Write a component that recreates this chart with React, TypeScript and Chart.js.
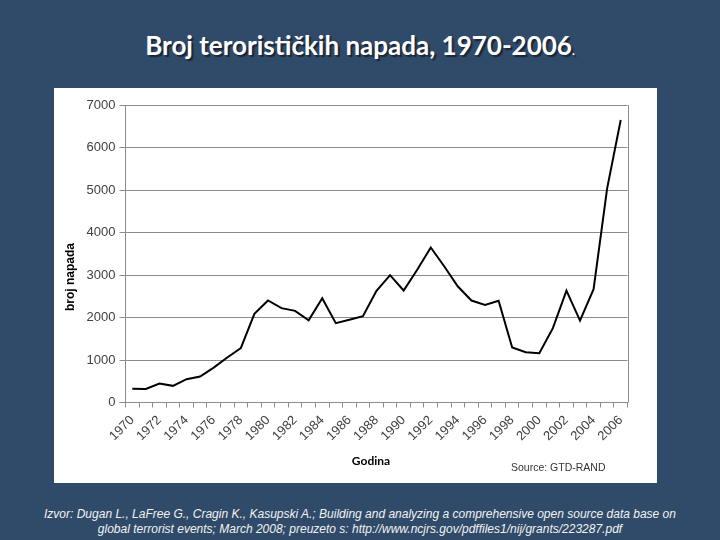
import React, { useEffect, useRef } from "react";
import { Chart, registerables } from "chart.js";

Chart.register(...registerables);

// ---- data ----
const years: string[] = [
  "1970", "1971", "1972", "1973", "1974", "1975", "1976", "1977", "1978", "1979",
  "1980", "1981", "1982", "1983", "1984", "1985", "1986", "1987", "1988", "1989",
  "1990", "1991", "1992", "1993", "1994", "1995", "1996", "1997", "1998", "1999",
  "2000", "2001", "2002", "2003", "2004", "2005", "2006",
];
const attacks: number[] = [
  322, 320, 447, 392, 549, 612, 820, 1060, 1278, 2086,
  2400, 2220, 2157, 1935, 2455, 1867, 1945, 2031, 2627, 2996,
  2635, 3122, 3647, 3200, 2729, 2400, 2298, 2395, 1293, 1184,
  1160, 1748, 2634, 1928, 2665, 5040, 6647,
];
const yMin = 0;
const yMax = 7000;
const yStep = 1000;

const TITLE = "Broj terorističkih napada, 1970-2006";
const Y_TITLE = "broj napada";
const X_TITLE = "Godina";
const SOURCE = "Source: GTD-RAND";
const FOOTER_1 =
  "Izvor: Dugan L., LaFree G., Cragin K., Kasupski A.; Building and analyzing a comprehensive open source data base on";
const FOOTER_2 =
  "global terrorist events; March 2008; preuzeto s: http://www.ncjrs.gov/pdffiles1/nij/grants/223287.pdf";

const BG = "#304a69";
const GRID = "#8c8c8c";

const rightBorder = {
  id: "rightBorder",
  afterDraw(chart: any) {
    const { ctx, chartArea } = chart;
    ctx.save();
    ctx.strokeStyle = GRID;
    ctx.lineWidth = 1;
    ctx.beginPath();
    const x = Math.round(chartArea.right) + 0.5;
    ctx.moveTo(x, chartArea.top);
    ctx.lineTo(x, chartArea.bottom);
    ctx.stroke();
    ctx.restore();
  },
};

function LineChart() {
  const ref = useRef<HTMLCanvasElement | null>(null);
  useEffect(() => {
    if (!ref.current) return;
    const chart = new Chart(ref.current, {
      type: "line",
      data: {
        labels: years,
        datasets: [
          {
            data: attacks,
            borderColor: "#000000",
            borderWidth: 2,
            pointRadius: 0,
            tension: 0,
            fill: false,
          },
        ],
      },
      options: {
        responsive: false,
        animation: false,
        layout: { padding: { top: 17, right: 29.5, left: 0, bottom: 0 } },
        plugins: {
          legend: { display: false },
          title: { display: false },
          tooltip: { enabled: false },
        },
        scales: {
          x: {
            type: "category",
            offset: true,
            grid: {
              offset: true,
              drawOnChartArea: false,
              drawTicks: true,
              tickLength: 5,
              color: GRID,
            },
            border: { display: true, color: GRID },
            ticks: {
              autoSkip: false,
              minRotation: 45,
              maxRotation: 45,
              padding: 5,
              color: "#404040",
              font: { family: "'Liberation Sans', Arial, sans-serif", size: 13 },
              callback: (_v: any, i: number) => (i % 2 === 0 ? years[i] : ""),
            },
            afterFit: (scale: any) => {
              scale.height = 80.5;
            },
          },
          y: {
            min: yMin,
            max: yMax,
            grid: { color: GRID, tickLength: 6, drawTicks: true },
            border: { display: true, color: GRID },
            ticks: {
              stepSize: yStep,
              padding: 4,
              color: "#404040",
              font: { family: "'Liberation Sans', Arial, sans-serif", size: 13 },
              callback: (v: any) => String(v),
            },
            afterFit: (scale: any) => {
              scale.width = 71.5;
            },
          },
        },
      },
      plugins: [rightBorder],
    } as any);
    return () => chart.destroy();
  }, []);
  return (
    <canvas
      ref={ref}
      width={603}
      height={395}
      style={{ position: "absolute", left: 54, top: 88, width: 603, height: 395 }}
    />
  );
}

export default function App() {
  return (
    <div
      style={{
        position: "fixed",
        left: 0,
        top: 0,
        width: 720,
        height: 540,
        background: BG,
        overflow: "hidden",
        fontFamily: "'Liberation Sans', Arial, sans-serif",
      }}
    >
      <div
        style={{
          position: "absolute",
          left: 0,
          top: 27,
          width: 720,
          textAlign: "center",
          color: "#ffffff",
          fontFamily: "Lato, 'Open Sans', sans-serif",
          fontWeight: 700,
          fontSize: 26,
          lineHeight: "36px",
          textShadow: "2px 2px 1px #1a2636",
          whiteSpace: "nowrap",
        }}
      >
        {TITLE}
        <span style={{ fontSize: 12 }}>.</span>
      </div>
      <div
        style={{
          position: "absolute",
          left: 54,
          top: 88,
          width: 603,
          height: 395,
          background: "#ffffff",
        }}
      />
      <LineChart />
      <div
        style={{
          position: "absolute",
          left: 70,
          top: 277,
          transform: "translate(-50%, -50%) rotate(-90deg)",
          fontWeight: 700,
          fontSize: 12,
          color: "#000",
          whiteSpace: "nowrap",
        }}
      >
        {Y_TITLE}
      </div>
      <div
        style={{
          position: "absolute",
          left: 371,
          top: 460,
          transform: "translate(-50%, -50%)",
          fontFamily: "Lato, sans-serif",
          fontWeight: 700,
          fontSize: 12,
          color: "#000",
          whiteSpace: "nowrap",
        }}
      >
        {X_TITLE}
      </div>
      <div
        style={{
          position: "absolute",
          left: 511,
          top: 461,
          fontSize: 10.5,
          color: "#333",
          whiteSpace: "nowrap",
        }}
      >
        {SOURCE}
      </div>
      <div
        style={{
          position: "absolute",
          left: 0,
          top: 507,
          width: 720,
          textAlign: "center",
          color: "#f2f2f2",
          fontStyle: "italic",
          fontSize: 12,
          lineHeight: "15px",
          whiteSpace: "nowrap",
        }}
      >
        <div>{FOOTER_1}</div>
        <div>{FOOTER_2}</div>
      </div>
    </div>
  );
}
